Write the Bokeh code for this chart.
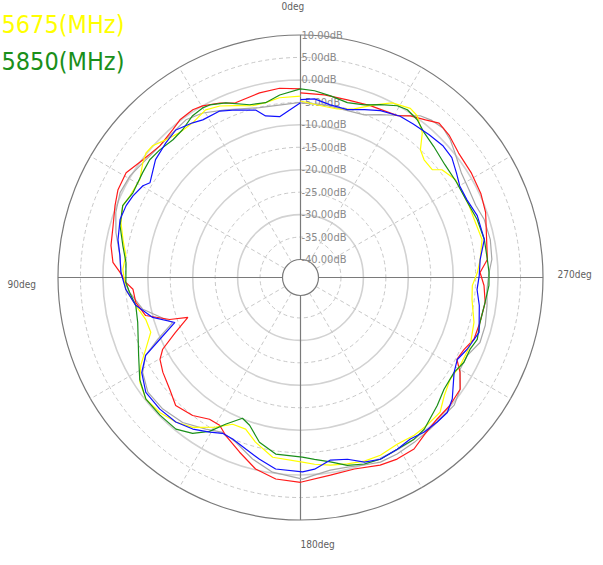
import numpy as np
from bokeh.plotting import figure
from bokeh.models import Range1d
from bokeh.core.properties import value
from bokeh.embed import file_html
from bokeh.resources import INLINE

# ---- data: angle (deg, counter-clockwise from top) and gain (dB) ----
red_deg = [0, 6.3, 12.5, 20.4, 24.8, 29.7, 32.7, 37.4, 40.9, 46.9, 53.2, 59, 64.3, 68.8, 74.5, 80.4, 85.4, 88.4,
           91.6, 94, 98.6, 103.8, 107.8, 109.5, 113.7, 117.5, 120.2, 124.5, 130.5, 135.7, 142, 147.3, 151.3, 154.6,
           160.8, 166.8, 173, 180, 188.6, 195.7, 203, 208, 213.5, 218.1, 224, 229.5, 235, 239.3, 242.4, 246.3,
           250.4, 256, 262.3, 267.5, 271.6, 275.5, 289.4, 295, 301.4, 308.2, 313.6, 318.1, 321.6, 325.8, 329.1,
           337.9, 345.2, 352.5, 360]
red_db = [-2.0, -1.6, -1.9, -2.5, -1.2, 0.0, 0.4, 0.2, -0.5, -1.1, -0.2, 1.3, 1.1, 0.3, -0.7, -1.2, -2.1, -3.8,
          -5.1, -6.6, -6.9, -8.5, -13.4, -17.4, -13.6, -9.4, -7.8, -6.8, -5.7, -4.2, -5.0, -6.5, -6.5, -5.1,
          -2.8, -0.2, 1.2, 1.6, 0.5, 0.3, 1.4, 1.8, 1.8, 0.6, -0.2, -0.2, -0.6, -2.7, -4.7, -4.2,
          -3.0, -2.8, -2.5, -3.1, -4.0, -2.2, -0.3, 0.3, 0.6, 0.8, 1.8, 2.2, 0.8, -0.5, -2.0,
          -2.7, -3.1, -3.0, -2.9]

gray_deg = [0, 13.6, 24.1, 30.7, 36, 41.4, 46.9, 54, 59.2, 64.8, 70.6, 76.3, 83.1, 88.4, 95, 101.4, 109.4, 113.4,
            116.7, 121, 126.9, 133.7, 140.9, 148, 153.3, 158.5, 165.2, 171.8, 180.6, 184, 188.8, 193.9, 198.8,
            203.4, 208.7, 214.6, 220.5, 226.2, 230.3, 235, 240.1, 245, 250.1, 255.5, 261.5, 266.3, 271.5, 275.4,
            281.3, 287.5, 292.4, 297.5, 302.9, 308.9, 312.6, 316.3, 320.1, 323.5, 327.3, 333.9, 338.6, 345.3,
            352.1, 360]
gray_db = [-5.0, -5.1, -3.1, -1.4, -0.6, -1.0, -1.1, -0.6, 0.2, 0.4, -0.4, -1.7, -3.5, -4.0, -5.8, -8.2, -13.8, -9.4,
           -5.4, -3.0, -1.5, -1.6, -2.4, -4.2, -5.4, -4.6, -2.2, -0.2, 0.9, 0.1, -0.6, -0.5, 0.1,
           0.8, 0.8, 0.6, 0.4, 0.3, 0.5, -0.6, -3.0, -3.0, -1.5, -1.5, -2.0, -2.4, -2.0, -1.2,
           -0.9, -1.1, -1.8, -1.7, -1.3, 0.2, 1.3, 2.0, 1.6, 0.8, -1.2, -3.6, -5.1, -5.4,
           -5.2, -5.1]

yellow_deg = [0, 6.7, 11.3, 15.6, 20.7, 25.2, 29.5, 34.9, 39.8, 44.4, 48.3, 51.1, 54, 58.7, 64.4, 68, 73, 78, 82.8,
              87.4, 93.9, 99.6, 105.2, 110.1, 114.9, 118.8, 123.1, 128.2, 133.8, 139.2, 144.3, 150.5, 155.2,
              160.1, 164.7, 171.2, 180.6, 184.3, 189.1, 194.1, 199.2, 204.2, 210.1, 215.8, 220.6, 226, 230.7,
              235.8, 241.2, 248.2, 255.5, 262.7, 267.3, 271.6, 275.7, 281.8, 288.4, 293.1, 297.7, 302.3, 307.3,
              309.3, 313.6, 316.8, 319.9, 324.2, 327, 332.3, 336.8, 342.3, 347.7, 354.4, 360]
yellow_db = [-3.6, -3.7, -4.3, -4.3, -3.1, -1.8, -1.1, -2.0, -2.0, -1.1, 0.1, 0.2, -0.6, -2.1, -1.9, -1.3, -2.2, -3.6, -4.8,
             -4.4, -5.0, -6.8, -8.3, -8.5, -6.0, -3.4, -1.3, -0.2, -0.6, -1.5, -2.9, -5.7, -8.0,
             -8.1, -6.0, -3.5, -2.9, -2.3, -1.7, -1.2, -0.7, -0.6, -1.1, -0.7, -0.7, -0.8, -2.6,
             -3.7, -3.4, -3.3, -4.1, -5.5, -5.7, -4.6, -3.8, -2.7, -3.2, -3.2, -3.3, -3.2, -4.4,
             -6.1, -6.0, -5.0, -1.9, 0.4, 0.9, -0.1, -2.2, -4.6, -5.6, -5.4, -4.7]

green_deg = [0, 6.5, 11.3, 16.4, 23.2, 27.7, 30, 33.7, 38.6, 42.8, 47.8, 52, 56.4, 63.2, 68, 74, 79.8, 85.1, 91.6,
             95, 99.6, 105.4, 115.7, 122.4, 128.2, 134.4, 140.6, 145.3, 149.4, 152.9, 157.6, 161, 166, 172,
             180.6, 184.4, 189.2, 194, 198.9, 203.7, 209.4, 215.1, 219.2, 226.9, 232.1, 238.3, 242.6, 247,
             250.7, 256, 261.3, 267.6, 271.5, 275.5, 281.7, 288.1, 295.5, 301.5, 308, 314.5, 319.5, 323.5,
             327.5, 330.6, 335.2, 339.7, 345, 350.6, 355.7, 360]
green_db = [-2.0, -3.1, -4.3, -3.9, -1.7, -0.6, -0.4, -0.7, -1.9, -2.2, -1.7, -1.4, -1.8, -2.2, -1.3, -2.2, -3.8, -5.0, -5.1,
            -5.8, -6.8, -6.4, -4.0, -1.6, -0.2, -0.2, -0.3, -1.8, -4.2, -7.3, -10.1, -9.2, -6.2, -4.3,
            -4.0, -3.4, -2.4, -0.9, -0.1, 0.2, -0.1, 0.0, -0.4, -2.3, -3.5, -3.8, -3.0, -3.0,
            -2.3, -2.8, -2.6, -2.0, -2.0, -2.2, -2.2, -2.6, -3.3, -3.3, -3.2, -2.4, -1.6, -0.3,
            0.3, -0.1, -1.6, -3.0, -3.7, -3.0, -2.3, -2.0]

blue_deg = [0, 3.7, 7.4, 12.2, 15, 21.2, 25.9, 31.8, 34.9, 40.2, 45, 50.9, 57.8, 59.8, 64, 67.6, 72.2, 78.3, 83.1,
            88.4, 93.9, 99.6, 105.1, 109.7, 113.7, 116.7, 120.9, 126.6, 133.1, 139.2, 144.6, 149.6, 153.4,
            157.2, 162.3, 167.3, 172.6, 180.6, 184.2, 189.3, 194.5, 199.1, 203.7, 209.4, 214.2, 218.7, 223.4,
            227.4, 231.3, 238.3, 242.4, 246.7, 252.9, 261.1, 266.1, 270.6, 275.7, 281.7, 289.3, 295, 299.9,
            303.8, 308.4, 312.9, 318.1, 323.7, 328.3, 334.4, 339.1, 344.4, 350.2, 355.5, 360]
blue_db = [-5.1, -6.6, -7.9, -7.2, -5.4, -4.0, -2.8, -2.7, -2.0, -1.0, -1.6, -2.4, -4.4, -3.4, -2.5, -2.0, -1.8, -2.5, -3.5,
           -4.0, -5.0, -6.8, -9.9, -14.3, -9.8, -5.4, -2.8, -1.1, -1.1, -1.5, -2.6, -4.1, -5.2,
           -5.0, -3.9, -2.5, -1.0, -0.7, -1.2, -2.8, -2.2, -0.5, 0.2, -0.1, -0.5, 0.1, 0.3,
           0.4, -0.7, -3.8, -4.6, -3.6, -2.4, -3.7, -4.6, -4.2, -3.8, -2.2, -2.3, -3.1, -3.1,
           -2.2, -1.0, -0.8, -1.2, -1.6, -1.8, -2.8, -4.0, -5.2, -5.0, -4.1, -4.4]

ring_levels = [10, 5, 0, -5, -10, -15, -20, -25, -30, -35, -40]
ring_labels = ["10.00dB", "5.00dB", "0.00dB", "-5.00dB", "-10.00dB", "-15.00dB", "-20.00dB",
               "-25.00dB", "-30.00dB", "-35.00dB", "-40.00dB"]
spoke_angles = [30, 60, 120, 150, 210, 240, 300, 330]
deg_labels = ["0deg", "90deg", "180deg", "270deg"]
legend_labels = ["5675(MHz)", "5850(MHz)"]

FONT = "'DejaVu Sans Condensed', 'Liberation Sans Narrow', 'Liberation Sans', sans-serif"

# ---- geometry ----
DB_MIN, DB_MAX = -40.0, 10.0
R_IN, R_OUT = 18.0, 242.5


def rad(db):
    return R_IN + (np.asarray(db, dtype=float) - DB_MIN) * (R_OUT - R_IN) / (DB_MAX - DB_MIN)


def to_xy(deg, db):
    t = np.radians(np.asarray(deg, dtype=float))
    r = rad(db)
    return -r * np.sin(t), r * np.cos(t)


W, H = 595, 557
p = figure(width=W, height=H, output_backend="svg", toolbar_location=None,
           x_range=Range1d(-300, 295), y_range=Range1d(-280, 277),
           min_border=0, min_border_left=0, min_border_right=0, min_border_top=0, min_border_bottom=0)
p.axis.visible = False
p.grid.visible = False
p.outline_line_color = None
p.background_fill_color = "white"
p.border_fill_color = "white"

# rings
for lv in ring_levels:
    r = float(rad(lv))
    if lv == DB_MAX:
        p.circle(x=0, y=0, radius=r, fill_color=None, line_color="#7a7a7a", line_width=1.2)
    elif lv == DB_MIN:
        continue
    elif lv % 10 == 0:
        p.circle(x=0, y=0, radius=r, fill_color=None, line_color="#d2d2d2", line_width=1.6)
    else:
        p.circle(x=0, y=0, radius=r, fill_color=None, line_color="#c8c8c8", line_width=1,
                 line_dash="4 3")

# spokes
sa = np.radians(spoke_angles)
p.segment(x0=-R_IN * np.sin(sa), y0=R_IN * np.cos(sa), x1=-R_OUT * np.sin(sa), y1=R_OUT * np.cos(sa),
          line_color="#c8c8c8", line_width=1, line_dash="4 3")

# axes cross
p.segment(x0=[-R_OUT, 0], y0=[0, -R_OUT], x1=[R_OUT, 0], y1=[0, R_OUT], line_color="#7a7a7a", line_width=1.2)

# inner circle
p.circle(x=0, y=0, radius=R_IN, fill_color="white", line_color="#7a7a7a", line_width=1.2)

# dB labels
p.text(x=[1] * len(ring_levels), y=list(rad(ring_levels)), text=ring_labels,
       text_font=value(FONT), text_font_size="11px", text_color="#8a8a8a",
       text_align="left", text_baseline="middle")

# angle labels
p.text(x=[-19, -293, 0, 257], y=[277, -1, -261, 9], text=deg_labels,
       text_font=value(FONT), text_font_size="10px", text_color="#606060",
       text_align="left", text_baseline="top")

# curves
for deg, db, col in [(gray_deg, gray_db, "#a8a8a8"), (red_deg, red_db, "#ff1a1a"),
                     (yellow_deg, yellow_db, "#ffff00"), (green_deg, green_db, "#1a8f1a"),
                     (blue_deg, blue_db, "#1010ff")]:
    x, y = to_xy(deg, db)
    p.line(x, y, line_color=col, line_width=1.2)

# legend texts
p.text(x=[-299, -299], y=[253, 216], text=legend_labels,
       text_color=["#ffff00", "#1a8f1a"], text_font=value(FONT),
       text_font_size="25px", text_align="left", text_baseline="alphabetic")

open("out.html", "w").write(file_html(p, INLINE))
